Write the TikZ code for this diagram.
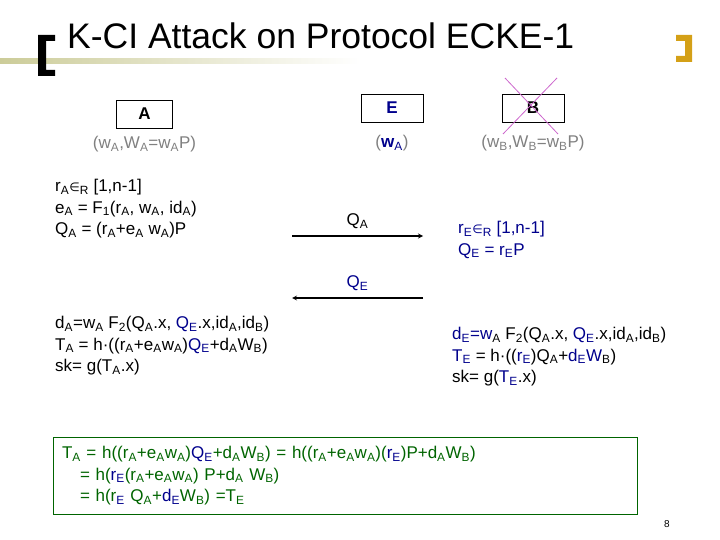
\documentclass[tikz,border=0pt]{standalone}
\usepackage{fontspec}
\setmainfont{Liberation Sans}
\newfontfamily\dvsfont{DejaVu Sans}
\usepackage{tikz}
\usepackage{xcolor}
\usetikzlibrary{positioning}
\usetikzlibrary{arrows}

\definecolor{keygray}{RGB}{128,128,128}
\definecolor{eveblue}{RGB}{0,0,140}
\definecolor{proofgreen}{RGB}{0,100,0}
\definecolor{crossmag}{RGB}{204,102,204}
\definecolor{bracketgold}{RGB}{212,160,23}
\definecolor{lineolive}{RGB}{204,204,153}

\newcommand{\ix}[1]{\textsubscript{#1}}
\newcommand{\inR}{{\dvsfont\fontsize{12}{12}\selectfont\raisebox{0.5pt}{∈}}\ix{R}}

\tikzset{
  party/.style={draw, rectangle, minimum width=62pt, minimum height=28pt,
    inner sep=0pt, font=\fontsize{17}{17}\selectfont\bfseries},
  keys/.style={text=keygray, inner sep=0pt, font=\fontsize{17}{17}\selectfont},
  txt/.style={inner sep=0pt, align=left, anchor=west,
    font=\fontsize{17}{21.5}\selectfont},
  msg/.style={->, >=stealth, line width=1.2pt},
}

\begin{document}
\begin{tikzpicture}[x=1pt, y=-1pt]
\useasboundingbox (0,0) rectangle (720,540);

% Title with brackets
\fill[left color=lineolive, right color=white] (0,59) rectangle (360,64);
\fill[black] (55,35) -- (38,35) -- (38,76) -- (55,76) -- (55,70) -- (46,70)
  -- (46,41) -- (55,41) -- cycle;
\fill[bracketgold] (676,35) -- (692,35) -- (692,62) -- (676,62) -- (676,56)
  -- (685,56) -- (685,41) -- (676,41) -- cycle;
\node[anchor=base west, inner sep=0pt, font=\fontsize{35.5}{35.5}\selectfont] (title)
  at (67,49) {K-CI Attack on Protocol ECKE-1};

% Parties (nodes)
\node[party, minimum width=56pt] (boxA) at (144.5,114) {A};
\node[party, text=eveblue] (boxE) at (392,108) {E};
\node[party] (boxB) at (533,108) {B};
\node[keys, below=8pt of boxA.south] (keyA) {(w\ix{A},W\ix{A}=w\ix{A}P)};
\node[keys, below=13pt of boxE.south] (keyE) {(\textcolor{eveblue}{\textbf{w}\ix{A}})};
\node[keys, below=13pt of boxB.south] (keyB) {(w\ix{B},W\ix{B}=w\ix{B}P)};

% B is crossed out
\coordinate (crossA) at (505,78);
\coordinate (crossB) at (558,134);
\coordinate (crossC) at (557,78);
\coordinate (crossD) at (503,134);
\draw[crossmag, line width=0.8pt] (crossA) -- (crossB);
\draw[crossmag, line width=0.8pt] (crossC) -- (crossD);

% A computes Q_A
\node[txt] (stepA1) at (55,209) {r\ix{A}\inR{} [1,n-1]\\
  e\ix{A} = F\ix{1}(r\ix{A}, w\ix{A}, id\ix{A})\\
  Q\ix{A} = (r\ix{A}+e\ix{A} w\ix{A})P};

% Messages
\coordinate (qaFrom) at (292,236);
\coordinate (qaTo) at (423,236);
\draw[msg] (qaFrom) -- (qaTo) node[midway, above=3pt, font=\fontsize{17}{17}\selectfont] (qaLbl) {Q\ix{A}};
\coordinate (qeFrom) at (423,298);
\coordinate (qeTo) at (292,298);
\draw[msg] (qeFrom) -- (qeTo) node[midway, above=3pt, text=eveblue, font=\fontsize{17}{17}\selectfont] (qeLbl) {Q\ix{E}};

% E answers with Q_E
\node[txt, text=eveblue] (stepE1) at (458,240) {r\ix{E}\inR{} [1,n-1]\\
  Q\ix{E} = r\ix{E}P};

% Session keys
\node[txt] (stepA2) at (55,346) {d\ix{A}=w\ix{A} F\ix{2}(Q\ix{A}.x, \textcolor{eveblue}{Q\ix{E}}.x,id\ix{A},id\ix{B})\\
  T\ix{A} = h·((r\ix{A}+e\ix{A}w\ix{A})\textcolor{eveblue}{Q\ix{E}}+d\ix{A}W\ix{B})\\
  sk= g(T\ix{A}.x)};
\node[txt] (stepE2) at (452,357) {\textcolor{eveblue}{d\ix{E}=w}\ix{A} F\ix{2}(Q\ix{A}.x, \textcolor{eveblue}{Q\ix{E}}.x,id\ix{A},id\ix{B})\\
  \textcolor{eveblue}{T\ix{E}} = h·((\textcolor{eveblue}{r\ix{E}})Q\ix{A}+\textcolor{eveblue}{d\ix{E}W}\ix{B})\\
  sk= g(\textcolor{eveblue}{T\ix{E}}.x)};

% Both keys agree
\node[draw=proofgreen, line width=0.8pt, text=proofgreen, inner sep=9pt,
  text width=566pt, minimum height=70pt, align=left,
  font=\fontsize{17}{21.5}\selectfont] (proof) at (345,476)
  {T\ix{A} = h((r\ix{A}+e\ix{A}w\ix{A})\textcolor{eveblue}{Q\ix{E}}+d\ix{A}W\ix{B}) = h((r\ix{A}+e\ix{A}w\ix{A})(\textcolor{eveblue}{r\ix{E}})P+d\ix{A}W\ix{B})\\
  \hspace*{18pt}= h(\textcolor{eveblue}{r\ix{E}}(r\ix{A}+e\ix{A}w\ix{A}) P+d\ix{A} W\ix{B})\\
  \hspace*{18pt}= h(r\ix{\textcolor{eveblue}{E}} Q\ix{A}+\textcolor{eveblue}{d\ix{E}}W\ix{B}) =T\ix{E}};

% Slide number
\node[inner sep=0pt, font=\fontsize{10}{10}\selectfont] (pageNo) at (667,524) {8};
\end{tikzpicture}
\end{document}
